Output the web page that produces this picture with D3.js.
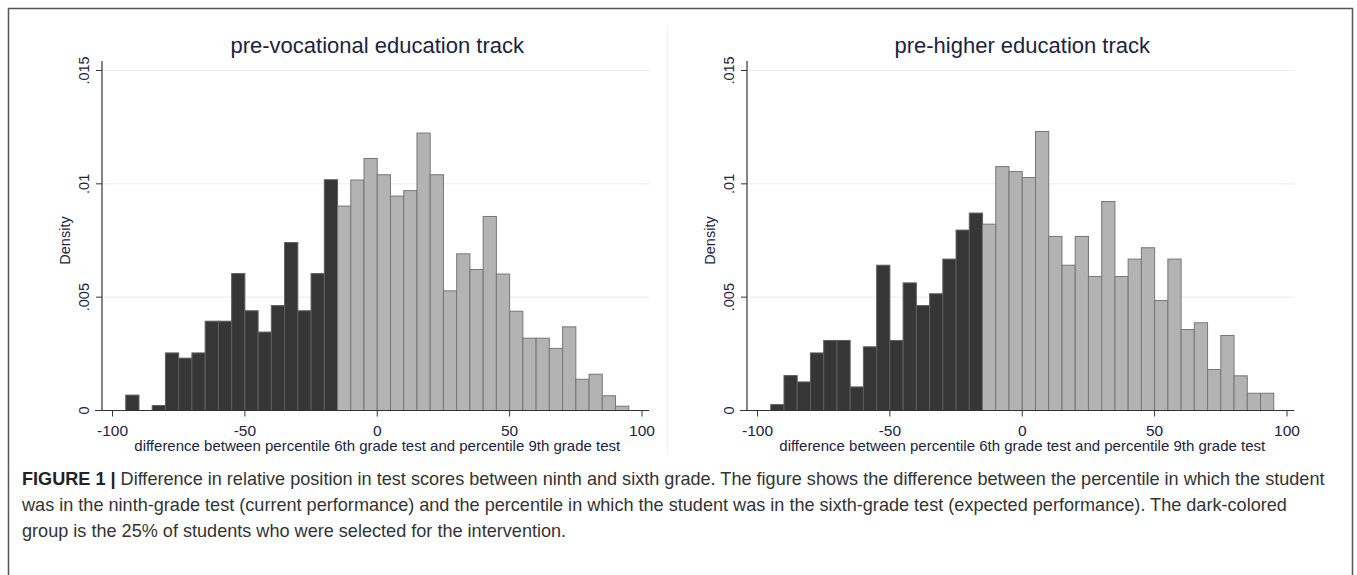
<html>
<head>
  <script src="https://d3js.org/d3.v7.min.js"></script>
  <style>
    body { margin: 0; background: #fff; }
    text { font-family: "Liberation Sans", Arial, sans-serif; }
  </style>
</head>
<body>
  <svg id="fig" width="1357" height="575"></svg>
  <script>
    // histogram bins: start of each 5-point bin
    const binStarts = d3.range(-95, 95, 5);
    const binWidth = 5;
    const cutoff = -15; // bins below this are the selected (dark) group

    const vocational = [0.00068, 0, 0.00022, 0.00254, 0.00231, 0.00254, 0.00394, 0.00394,
      0.00604, 0.0044, 0.00346, 0.00463, 0.00741, 0.0044, 0.00604, 0.01018,
      0.00902, 0.01017, 0.01112, 0.0104, 0.00946, 0.0097, 0.01224, 0.0104,
      0.00528, 0.00691, 0.00622, 0.00856, 0.00602, 0.00438, 0.00319, 0.00319,
      0.00274, 0.00369, 0.00138, 0.0016, 0.00065, 0.00019];

    const higher = [0.00026, 0.00154, 0.00126, 0.00254, 0.00309, 0.00309, 0.00104, 0.00281,
      0.00641, 0.00309, 0.00563, 0.00463, 0.00515, 0.00668, 0.00796, 0.00871,
      0.00822, 0.01076, 0.01054, 0.01028, 0.01231, 0.00768, 0.00641, 0.00768,
      0.00591, 0.00922, 0.00591, 0.00668, 0.00718, 0.00485, 0.00668, 0.00357,
      0.00387, 0.00181, 0.00331, 0.00153, 0.00076, 0.00076];

    const xTicks = [-100, -50, 0, 50, 100];
    const yTicks = [0, 0.005, 0.01, 0.015];
    const yTickLabels = ["0", ".005", ".01", ".015"];

    const svg = d3.select('svg#fig');

    // outer frame (open at the bottom)
    svg.append('path')
      .attr('d', 'M8.5,575 V8.5 H1352.5 V575')
      .attr('fill', 'none')
      .attr('stroke', '#555')
      .attr('stroke-width', 1.5);

    // faint divider between the two graphs
    svg.append('line')
      .attr('x1', 667.5).attr('x2', 667.5)
      .attr('y1', 26).attr('y2', 455)
      .attr('stroke', '#f0f0f0');

    function drawPanel(left, title, values) {
      const x = d3.scaleLinear().domain([-100, 100]).range([left + 10.5, left + 540]);
      const y = d3.scaleLinear().domain([0, 0.015]).range([410.5, 70.5]);
      const axisX = left;
      const g = svg.append('g');

      g.append('text')
        .attr('x', x(0)).attr('y', 53)
        .attr('text-anchor', 'middle')
        .attr('font-size', 22)
        .attr('fill', '#1c2340')
        .text(title);

      // gridlines
      g.selectAll('line.grid')
        .data(yTicks.slice(1))
        .join('line')
        .attr('class', 'grid')
        .attr('x1', axisX + 1).attr('x2', x(100) + 8)
        .attr('y1', d => y(d)).attr('y2', d => y(d))
        .attr('stroke', '#e6eef0');

      const bins = binStarts.map((s, i) => ({ x0: s, x1: s + binWidth, v: values[i] }));
      g.selectAll('rect.bar')
        .data(bins.filter(d => d.v > 0))
        .join('rect')
        .attr('class', 'bar')
        .attr('x', d => x(d.x0))
        .attr('width', d => x(d.x1) - x(d.x0))
        .attr('y', d => y(d.v))
        .attr('height', d => y(0) - y(d.v))
        .attr('fill', d => d.x0 < cutoff ? '#363636' : '#b3b3b3')
        .attr('stroke', d => d.x0 < cutoff ? '#5e5e5e' : '#767676')
        .attr('stroke-width', 1);

      // y axis
      g.append('line')
        .attr('x1', axisX).attr('x2', axisX)
        .attr('y1', 61).attr('y2', y(0))
        .attr('stroke', '#333').attr('stroke-width', 1.2);
      g.selectAll('line.ytick')
        .data(yTicks)
        .join('line')
        .attr('x1', axisX - 6).attr('x2', axisX)
        .attr('y1', d => y(d)).attr('y2', d => y(d))
        .attr('stroke', '#333');
      g.selectAll('text.ylab')
        .data(yTicks)
        .join('text')
        .attr('class', 'ylab')
        .attr('transform', d => `translate(${axisX - 13},${y(d)}) rotate(-90)`)
        .attr('text-anchor', 'middle')
        .attr('font-size', 14.5)
        .attr('fill', '#1c2340')
        .text((d, i) => yTickLabels[i]);
      g.append('text')
        .attr('transform', `translate(${axisX - 32},${y(0.0075)}) rotate(-90)`)
        .attr('text-anchor', 'middle')
        .attr('font-size', 14.5)
        .attr('fill', '#1c2340')
        .text('Density');

      // x axis
      g.append('line')
        .attr('x1', axisX - 7).attr('x2', x(100) + 7)
        .attr('y1', y(0)).attr('y2', y(0))
        .attr('stroke', '#333').attr('stroke-width', 1.2);
      g.selectAll('line.xtick')
        .data(xTicks)
        .join('line')
        .attr('x1', d => x(d)).attr('x2', d => x(d))
        .attr('y1', y(0)).attr('y2', y(0) + 6)
        .attr('stroke', '#333');
      g.selectAll('text.xlab')
        .data(xTicks)
        .join('text')
        .attr('class', 'xlab')
        .attr('x', d => x(d)).attr('y', 436)
        .attr('text-anchor', 'middle')
        .attr('font-size', 15.5)
        .attr('fill', '#1c2340')
        .text(d => d);
      g.append('text')
        .attr('x', x(0)).attr('y', 451)
        .attr('text-anchor', 'middle')
        .attr('font-size', 15)
        .attr('fill', '#1c2340')
        .text('difference between percentile 6th grade test and percentile 9th grade test');
    }

    drawPanel(102, 'pre-vocational education track', vocational);
    drawPanel(747, 'pre-higher education track', higher);

    // caption
    const captionLines = [
      [['FIGURE 1 | ', true], ['Difference in relative position in test scores between ninth and sixth grade. The figure shows the difference between the percentile in which the student', false]],
      [['was in the ninth-grade test (current performance) and the percentile in which the student was in the sixth-grade test (expected performance). The dark-colored', false]],
      [['group is the 25% of students who were selected for the intervention.', false]]
    ];
    svg.selectAll('text.cap')
      .data(captionLines)
      .join('text')
      .attr('class', 'cap')
      .attr('x', 22)
      .attr('y', (d, i) => 485 + i * 26)
      .attr('font-size', 18.1)
      .attr('fill', '#333')
      .selectAll('tspan')
      .data(d => d)
      .join('tspan')
      .attr('font-weight', d => d[1] ? 'bold' : 'normal')
      .attr('fill', d => d[1] ? '#222' : '#333')
      .text(d => d[0]);
  </script>
</body>
</html>
